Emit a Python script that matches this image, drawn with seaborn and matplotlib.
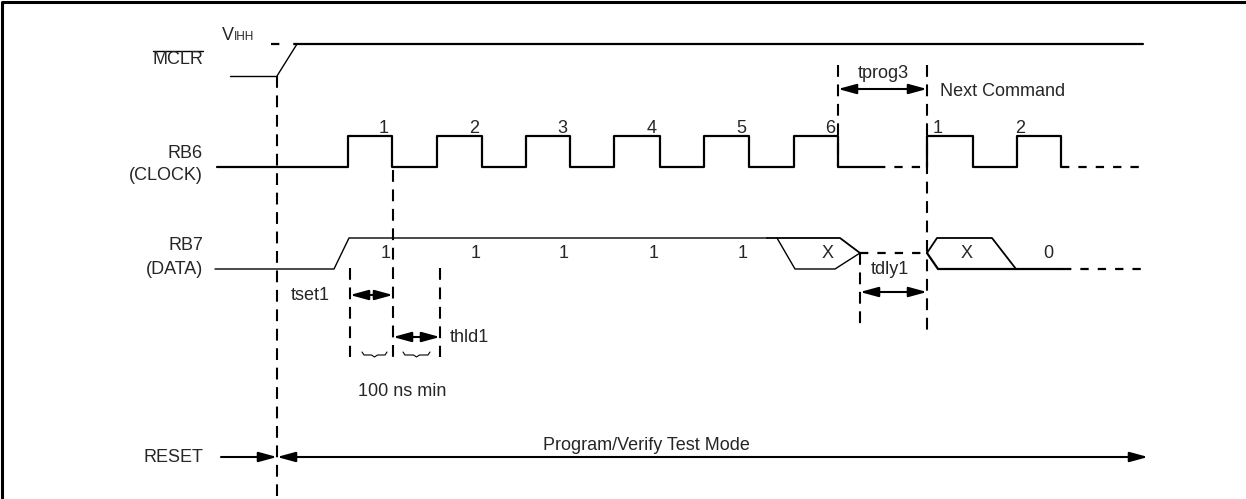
import seaborn as sns
import matplotlib.pyplot as plt
import numpy as np
import pandas as pd

# ---- timing data (horizontal = time, px-like units) ----
clk_low, clk_high = 167, 136
clk_rise = [348, 437, 526, 614, 704, 794]
clk_fall = [392, 482, 570, 660, 749, 838]
clk_labels = ["1", "2", "3", "4", "5", "6"]
next_rise = [927, 1017]
next_fall = [973, 1061]
next_labels = ["1", "2"]

data_low, data_mid, data_high = 269, 253, 238
data_bits = ["1", "1", "1", "1", "1"]

mclr_low, mclr_high = 76, 44
mclr_edge = [277, 297]

# vertical markers: (x, top, bottom)
markers = [(277, 76, 496), (393, 170, 360), (350, 268, 357), (440, 268, 357),
           (838, 65, 167), (927, 65, 333), (860, 253, 330)]

# dimension arrows: (start, end, y, label)
dims = [(350, 393, 295, "tset1"), (393, 440, 337, "thld1"),
        (838, 927, 89, "tprog3"), (860, 927, 292, "tdly1")]

reset_y = 457

sns.set_theme(style="white")
plt.rcParams['font.family'] = ['Liberation Sans', 'DejaVu Sans']
plt.rcParams['lines.scale_dashes'] = False

fig = plt.figure(figsize=(12.46, 4.99), dpi=100)
ax = fig.add_axes([0, 0, 1, 1])
ax.set_xlim(0, 1246)
ax.set_ylim(499, 0)
ax.axis("off")

THICK, THIN = 1.6, 1.0
DASH = (0, (8.5, 5.5))
DOT = (0, (6, 6.5))
FS = 13


def trace(xs, ys, lw=THICK, ls="-"):
    sns.lineplot(x=xs, y=ys, sort=False, estimator=None, color="black",
                 linewidth=lw, linestyle=ls, ax=ax)


def pulses(start, rises, falls, end, low, high):
    xs, ys = [start], [low]
    for r, f in zip(rises, falls):
        xs += [r, r, f, f]
        ys += [low, high, high, low]
    xs.append(end)
    ys.append(low)
    return xs, ys


def dim_arrow(x0, x1, y, style="<|-|>"):
    ax.annotate("", xy=(x1, y), xytext=(x0, y),
                arrowprops=dict(arrowstyle=f"{style},head_length=1.1,head_width=0.3",
                                mutation_scale=10, shrinkA=0, shrinkB=0,
                                lw=1.5, color="black"))


# frame (top and left only visible)
trace([2, 2, 1246], [499, 1.5, 1.5], lw=2.2)

# MCLR
trace([230, mclr_edge[0]], [mclr_low, mclr_low], lw=THIN)
trace([mclr_edge[0], mclr_edge[1]], [mclr_low, mclr_high], lw=THIN)
trace([mclr_edge[1], 1143], [mclr_high, mclr_high], lw=THICK)
trace([271, mclr_edge[1]], [mclr_high, mclr_high], lw=THICK, ls=(0, (6, 10)))
ax.text(222, 40, "V", fontsize=FS, ha="left", va="baseline")
ax.text(234, 40, "IHH", fontsize=8.5, ha="left", va="baseline")
t_mclr = ax.text(203, 59, "MCLR", fontsize=FS, ha="right", va="center")

# RB6 clock
xs, ys = pulses(217, clk_rise, clk_fall, 877, clk_low, clk_high)
trace(xs, ys)
trace([877, next_rise[0]], [clk_low, clk_low], ls=DOT)
xs, ys = pulses(next_rise[0], next_rise, next_fall, next_fall[-1], clk_low, clk_high)
trace(xs[1:], ys[1:])
trace([next_fall[-1], 1143], [clk_low, clk_low], ls=DOT)
for f, lab in zip(clk_fall, clk_labels):
    ax.text(f - 8, 128, lab, fontsize=FS, ha="center", va="center")
ax.text(next_rise[0] + 6, 128, next_labels[0], fontsize=FS, ha="left", va="center")
ax.text(next_rise[1] + 3, 128, next_labels[1], fontsize=FS, ha="center", va="center")
ax.text(203, 153, "RB6", fontsize=FS, ha="right", va="center")
ax.text(203, 175, "(CLOCK)", fontsize=FS, ha="right", va="center")

# RB7 data
trace([215, 334, 349, 767], [data_low, data_low, data_high, data_high], lw=THIN)
trace([767, 840, 860], [data_high, data_high, data_mid], lw=1.3)
trace([777, 795, 835, 860], [data_high, data_low, data_low, data_mid], lw=1.0)
trace([860, 927], [data_mid, data_mid], ls=DOT)
trace([927, 937, 992, 1016], [data_mid, data_high, data_high, data_low], lw=1.3)
trace([927, 938, 1063], [data_mid, data_low, data_low], lw=1.6)
trace([1063, 1142], [data_low, data_low], ls=DOT)
for f, lab in zip(clk_fall[:5], data_bits):
    ax.text(f - 6, data_mid, lab, fontsize=FS, ha="center", va="center")
ax.text(828, data_mid, "X", fontsize=FS, ha="center", va="center")
ax.text(967, data_mid, "X", fontsize=FS, ha="center", va="center")
ax.text(1048, data_mid, "0", fontsize=FS, ha="center", va="center")
ax.text(203, 245, "RB7", fontsize=FS, ha="right", va="center")
ax.text(203, 270, "(DATA)", fontsize=FS, ha="right", va="center")

# vertical dashed markers
for x, y0, y1 in markers:
    trace([x, x], [y0, y1], lw=1.5, ls=DASH)

# timing dimensions
for x0, x1, y, lab in dims:
    dim_arrow(x0, x1, y)
ax.text(330, 295, "tset1", fontsize=FS, ha="right", va="center")
ax.text(450, 337, "thld1", fontsize=FS, ha="left", va="center")
ax.text(883, 73, "tprog3", fontsize=FS, ha="center", va="center")
ax.text(890, 270, "tdly1", fontsize=FS, ha="center", va="center")
ax.text(940, 91, "Next Command", fontsize=FS, ha="left", va="center")

# 100 ns braces
for b0, b1 in [(362, 387), (403, 430)]:
    m = (b0 + b1) / 2
    trace([b0, b0 + 2, m - 3, m, m + 3, b1 - 2, b1],
          [352, 355, 355, 357, 355, 355, 352], lw=0.8)
ax.text(402, 391, "100 ns min", fontsize=FS, ha="center", va="center")

# RESET / test mode
dim_arrow(221, 277, reset_y, style="-|>")
dim_arrow(277, 1148, reset_y)
ax.text(203, reset_y, "RESET", fontsize=FS, ha="right", va="center")
ax.text(646, reset_y - 12, "Program/Verify Test Mode", fontsize=FS, ha="center", va="center")

# overline on MCLR
fig.canvas.draw()
bb = t_mclr.get_window_extent(fig.canvas.get_renderer())
(bx0, by0), (bx1, by1) = ax.transData.inverted().transform([[bb.x0, bb.y0], [bb.x1, bb.y1]])
trace([bx0 + 1, bx1], [51, 51], lw=1.0)

fig.savefig("out.png", dpi=100)
